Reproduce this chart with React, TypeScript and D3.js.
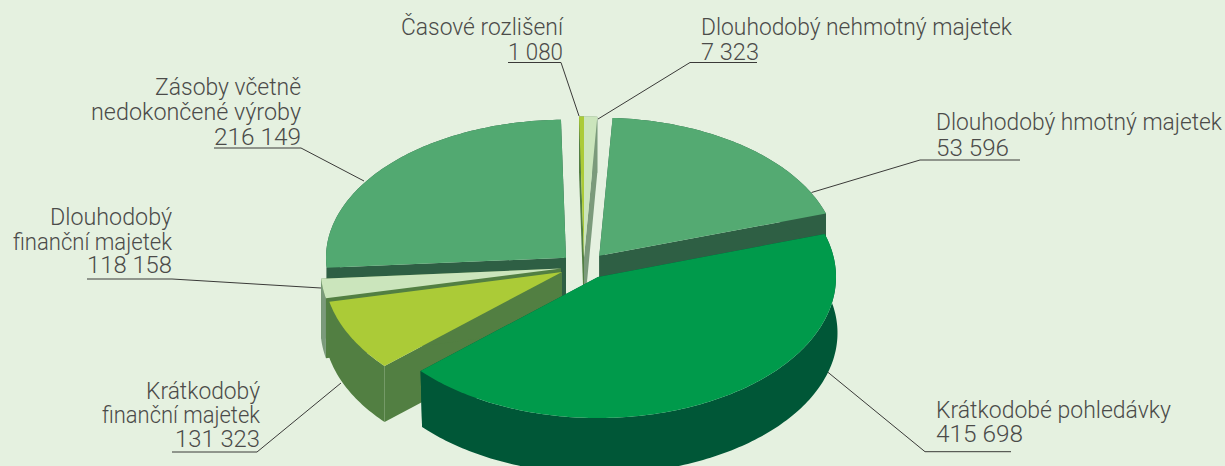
import React from "react";
import * as d3 from "d3";

const W = 1225;
const H = 466;

// Clockwise from the top of the pie
const sliceNames = ["Časové rozlišení", "Dlouhodobý nehmotný majetek", "Dlouhodobý hmotný majetek", "Krátkodobé pohledávky", "Krátkodobý finanční majetek", "Dlouhodobý finanční majetek", "Zásoby včetně nedokončené výroby"];
const sliceValues = [1080, 7323, 53596, 415698, 131323, 118158, 216149];
// The drawn wedges do not follow the printed values, so their sweep (degrees) is read from the picture
const drawnSweep = [1.2, 3.2, 69, 156, 29.6, 8, 93];

const topColors = ["#abcb37", "#cbe5bc", "#54aa72", "#009a4b", "#abcb37", "#cbe5bc", "#52a971"];
const wallColors = ["#527f42", "#7b9a7b", "#2e5f44", "#005737", "#527f42", "#7b9a7b", "#2e5f44"];
const cutColors = ["#527f42", "#7b9a7b", "#2e5f44", "#005737", "#527f42", "#527f42", "#2e5f44"];
const apexX = [584, 584, 599.3, 598, 562, 561, 566];
const apexY = [257.5, 257.5, 255.7, 277, 272, 268.5, 257.7];
const radiusX = [238, 238, 238, 238, 238, 240.5, 240];
const radiusY = [141, 141, 138, 141, 141, 141, 138];
const depths = [56, 56, 56, 56, 56, 60, 56];
const wallShiftX = [0, 0, 0, 1.5, 0, 0, 0];
const drawOrder = [6, 2, 0, 1, 5, 4, 3];

type Label = { x: number; anchor: "start" | "end"; lines: string[]; widths: number[]; baselines: number[]; rule: [number, number, number]; leader: [number, number] };
const labels: Label[] = [
  { x: 563, anchor: "end", lines: ["Časové rozlišení", "1 080"], widths: [162, 55], baselines: [35, 60], rule: [508, 561, 62.5], leader: [579, 116] },
  { x: 701, anchor: "start", lines: ["Dlouhodobý nehmotný majetek", "7 323"], widths: [311, 58], baselines: [35, 60], rule: [757, 690, 62.5], leader: [598, 119] },
  { x: 936, anchor: "start", lines: ["Dlouhodobý hmotný majetek", "53 596"], widths: [286, 73], baselines: [130, 156], rule: [1020, 920, 160], leader: [811.5, 192.5] },
  { x: 936, anchor: "start", lines: ["Krátkodobé pohledávky", "415 698"], widths: [235, 87], baselines: [418, 442], rule: [1011, 925, 451.7], leader: [827, 371.5] },
  { x: 260, anchor: "end", lines: ["Krátkodobý", "finanční majetek", "131 323"], widths: [114, 158, 85], baselines: [399, 423, 447], rule: [172, 257, 452], leader: [341, 383] },
  { x: 172, anchor: "end", lines: ["Dlouhodobý", "finanční majetek", "118 158"], widths: [122, 159, 85], baselines: [225, 250, 273], rule: [87, 172, 279], leader: [321, 288] },
  { x: 301, anchor: "end", lines: ["Zásoby včetně", "nedokončené výroby", "216 149"], widths: [146, 210, 87], baselines: [95, 120, 145], rule: [214, 301, 148], leader: [364, 181] },
];

const rad = (d: number) => (d * Math.PI) / 180;
const pie = d3.pie<number>().sort(null).value((d) => d).startAngle(rad(-1.2)).endAngle(rad(358.8));
const arcs = pie(drawnSweep);
const line = d3.line<[number, number]>();

function wedge(i: number) {
  const { startAngle, endAngle } = arcs[i];
  const cx = apexX[i];
  const cy = apexY[i];
  const rx = radiusX[i];
  const ry = radiusY[i];
  const steps = Math.max(2, Math.ceil(((endAngle - startAngle) * 180) / Math.PI));
  const rim: [number, number][] = d3.range(steps + 1).map((k) => {
    const a = startAngle + ((endAngle - startAngle) * k) / steps;
    return [cx + rx * Math.sin(a), cy - ry * Math.cos(a)];
  });
  const drop = (p: [number, number]): [number, number] => [p[0] + wallShiftX[i], p[1] + depths[i]];
  const apex: [number, number] = [cx, cy];
  const first = rim[0];
  const last = rim[rim.length - 1];
  return {
    top: line([apex, ...rim])! + "Z",
    outer: line([...rim, ...rim.slice().reverse().map(drop)])! + "Z",
    cutStart: line([apex, first, drop(first), drop(apex)])! + "Z",
    cutEnd: line([apex, last, drop(last), drop(apex)])! + "Z",
  };
}

export default function App() {
  return (
    <svg width={W} height={H} viewBox={`0 0 ${W} ${H}`} style={{ position: "absolute", left: 0, top: 0, display: "block" }}>
      <rect width={W} height={H} fill="#e5f1e0" />
      {labels.map((l, i) => (
        <polyline key={i} points={`${l.rule[0]},${l.rule[2]} ${l.rule[1]},${l.rule[2]} ${l.leader[0]},${l.leader[1]}`} fill="none" stroke="#3a3a38" strokeWidth={1} />
      ))}
      {drawOrder.map((i) => {
        const w = wedge(i);
        return (
          <g key={sliceNames[i]} data-value={sliceValues[i]}>
            <path d={w.cutStart} fill={cutColors[i]} />
            <path d={w.cutEnd} fill={cutColors[i]} />
            <path d={w.outer} fill={wallColors[i]} />
            <path d={w.top} fill={topColors[i]} />
          </g>
        );
      })}
      {labels.map((l, i) =>
        l.lines.map((t, j) => (
          <text key={`${i}-${j}`} x={l.x} y={l.baselines[j]} textAnchor={l.anchor} textLength={l.widths[j]} lengthAdjust="spacingAndGlyphs" fontFamily="Roboto, 'Liberation Sans', sans-serif" fontWeight={300} fontSize={24} fill="#4b4b49">
            {t}
          </text>
        ))
      )}
    </svg>
  );
}
